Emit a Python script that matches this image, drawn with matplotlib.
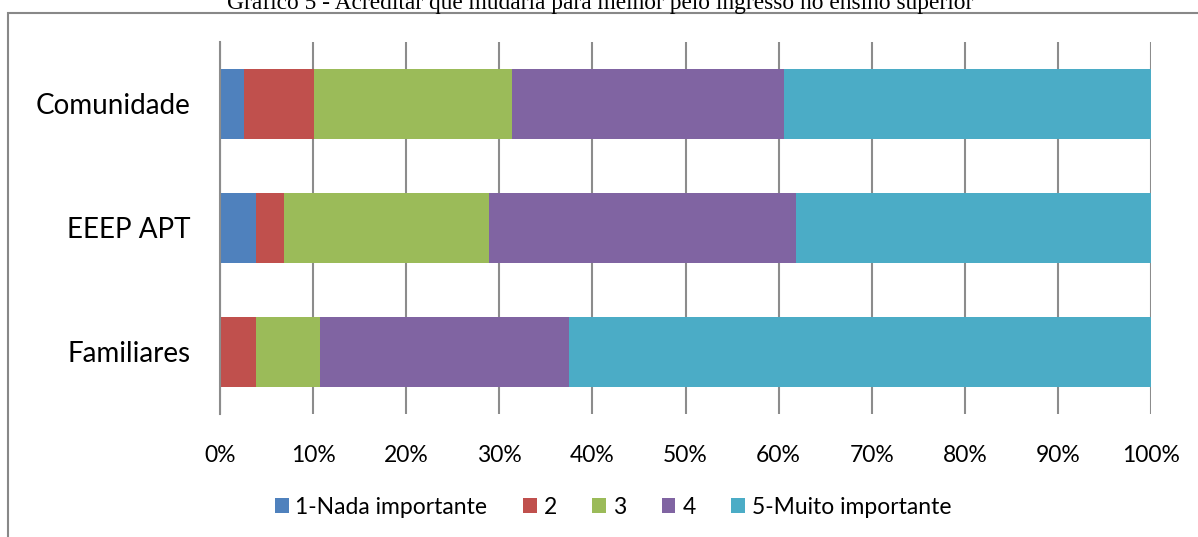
import matplotlib.pyplot as plt
from matplotlib.patches import Rectangle

# ------------------------------------------------------------------
# Data (percent of answers per group)
# ------------------------------------------------------------------
groups = ["Familiares", "EEEP APT", "Comunidade"]
levels = ["1-Nada importante", "2", "3", "4", "5-Muito importante"]
nivel1 = [0.0, 3.9, 2.6]
nivel2 = [3.9, 3.0, 7.5]
nivel3 = [6.8, 22.0, 21.3]
nivel4 = [26.8, 33.0, 29.2]
nivel5 = [62.5, 38.1, 39.4]
x_ticks = [0, 10, 20, 30, 40, 50, 60, 70, 80, 90, 100]

colors = ["#4F81BD", "#C0504D", "#9BBB59", "#8064A2", "#4BACC6"]
series = [nivel1, nivel2, nivel3, nivel4, nivel5]

W, H = 1198, 537
fig = plt.figure(figsize=(W / 100, H / 100), dpi=100)
plt.rcParams["font.family"] = ["Lato", "DejaVu Sans"]

# axes placed in pixel terms
x0, x1 = 220, 1151
y_top, y_bot = 42, 414
ax = fig.add_axes([x0 / W, 1 - y_bot / H, (x1 - x0) / W, (y_bot - y_top) / H])

# ------------------------------------------------------------------
# Stacked horizontal bars
# ------------------------------------------------------------------
left = [0.0] * len(groups)
for vals, col, lab in zip(series, colors, levels):
    ax.barh(groups, vals, left=left, height=0.565, color=col, label=lab,
            edgecolor="none", zorder=2)
    left = [l + v for l, v in zip(left, vals)]

ax.set_xlim(0, 100)
ax.set_ylim(-0.5, 2.5)
ax.set_xticks(x_ticks)
ax.set_xticklabels([f"{t}%" for t in x_ticks], fontsize=16.5)
ax.tick_params(axis="x", length=0, pad=22)
ax.tick_params(axis="y", length=0, pad=21, labelsize=20)
for lbl in ax.get_yticklabels():
    lbl.set_horizontalalignment("right")

ax.grid(axis="x", color="#8c8c8c", linewidth=1.5, zorder=1)
ax.set_axisbelow(True)
for s in ["top", "right", "bottom"]:
    ax.spines[s].set_visible(False)
ax.spines["left"].set_color("#8c8c8c")
ax.spines["left"].set_linewidth(1.5)
ax.spines["left"].set_zorder(3)

# ------------------------------------------------------------------
# Legend, frame and (clipped) title
# ------------------------------------------------------------------
fig.legend(loc="center", bbox_to_anchor=(613 / W, 1 - 507 / H), ncol=5,
           frameon=False, fontsize=16.5, handlelength=0.6, handleheight=0.6,
           handletextpad=0.3, columnspacing=1.55)

fig.patches.append(Rectangle((8 / W, -0.1), 1.2, 1 - 13 / H + 0.1,
                             transform=fig.transFigure, fill=False,
                             edgecolor="#888888", linewidth=1.5))

fig.text(600 / W, 1 - 9 / H,
         "Gráfico 5 - Acreditar que mudaria para melhor pelo ingresso no ensino superior",
         ha="center", va="baseline", fontsize=16.8, family="Liberation Serif")

fig.savefig("out.png", dpi=100)
